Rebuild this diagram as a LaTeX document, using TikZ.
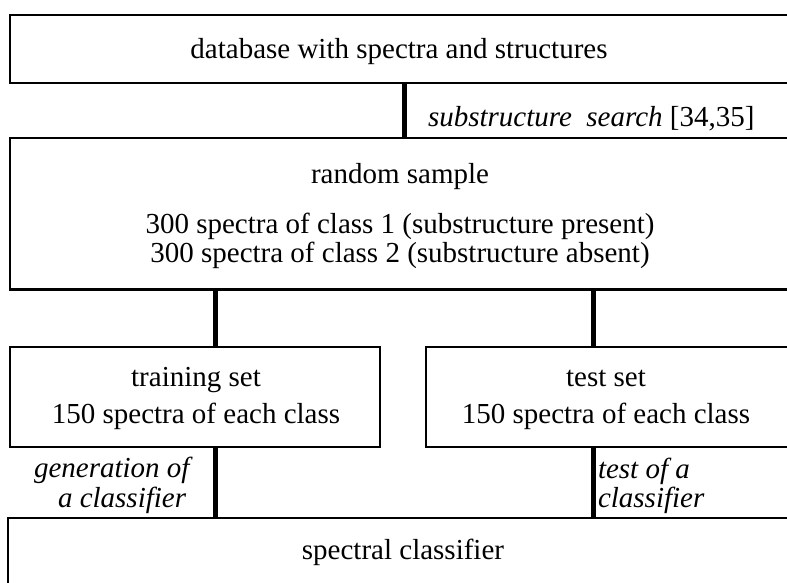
\documentclass[tikz,border=0pt]{standalone}
\usepackage{fontspec}
\setmainfont{Liberation Serif}
\begin{document}
\begin{tikzpicture}[x=1pt,y=-1pt,
  box/.style={draw, line width=2.8pt, rectangle, inner sep=0pt, outer sep=0pt, anchor=north west},
  conn/.style={line width=5pt},
  txt/.style={inner sep=0pt, outer sep=0pt, anchor=base, font=\fontsize{29}{34}\selectfont},
  lbl/.style={txt, font=\fontsize{29}{34}\selectfont\itshape}]
\useasboundingbox (0,0) rectangle (787,583);
\clip (0,0) rectangle (787,583);
% boxes (they run past the right edge of the page)
\node[box, minimum width=790pt, minimum height=68pt]  (db) at (10,15)  {};
\node[box, minimum width=790pt, minimum height=151.5pt] (rs) at (10,138) {};
\node[box, minimum width=370pt, minimum height=100pt] (tr) at (10,347) {};
\node[box, minimum width=380pt, minimum height=100pt] (ts) at (426,347) {};
\node[box, minimum width=800pt, minimum height=100pt] (sc) at (8,518) {};
% vertical connectors
\coordinate (k1) at (404,0);
\coordinate (kl) at (215,0);
\coordinate (kr) at (593,0);
\draw[conn] (db.south -| k1) -- (rs.north -| k1);
\draw[conn] (rs.south -| kl) -- (tr.north -| kl);
\draw[conn] (rs.south -| kr) -- (ts.north -| kr);
\draw[conn] (tr.south -| kl) -- (sc.north -| kl);
\draw[conn] (ts.south -| kr) -- (sc.north -| kr);
% texts
\node[txt] (t1) at (399,59) {database with spectra and structures};
\node[lbl, anchor=base west] (l1) at (428,127) {substructure~~search\upshape{} [34,35]};
\node[txt] (t2) at (400,183) {random sample};
\node[txt] (t3) at (400,233) {300 spectra of class 1 (substructure present)};
\node[txt] (t4) at (400,262) {300 spectra of class 2 (substructure absent)};
\node[txt] (t5) at (196,386.5) {training set};
\node[txt] (t6) at (196,423) {150 spectra of each class};
\node[txt] (t7) at (606,386.5) {test set};
\node[txt] (t8) at (606,423) {150 spectra of each class};
\node[lbl, anchor=base west] (l2) at (34,477) {generation of};
\node[lbl, anchor=base west] (l3) at (58,507) {a classifier};
\node[lbl, anchor=base west] (l4) at (598,478) {test of a};
\node[lbl, anchor=base west] (l5) at (598,507) {classifier};
\node[txt] (t9) at (403,559) {spectral classifier};
\end{tikzpicture}
\end{document}
